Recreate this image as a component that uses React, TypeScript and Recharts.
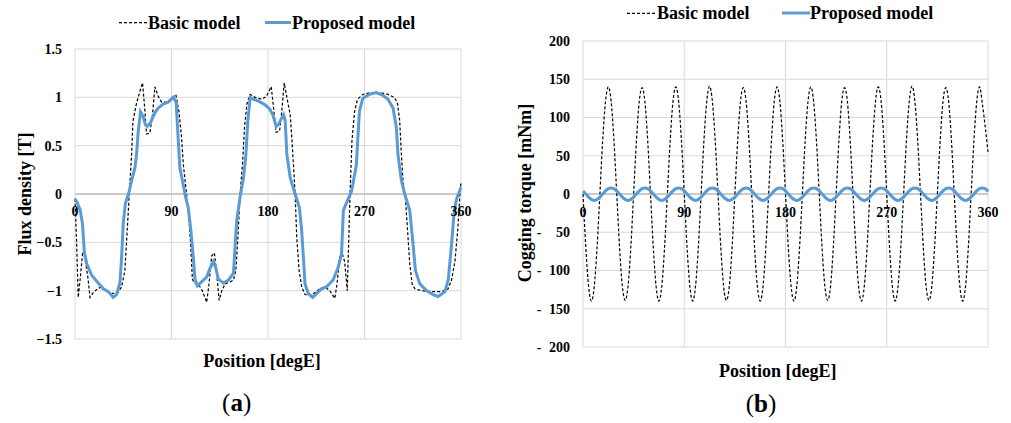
import React from 'react';
import { LineChart, Line, XAxis, YAxis, CartesianGrid, ReferenceLine } from 'recharts';

const SERIF = '"Liberation Serif", "Times New Roman", serif';
const BLUE = '#5b9bd5';

const POSITION_TICKS = [0, 90, 180, 270, 360];
const FLUX_TICKS = [-1.5, -1, -0.5, 0, 0.5, 1, 1.5];
const TORQUE_TICKS = [-200, -150, -100, -50, 0, 50, 100, 150, 200];

// (a) flux density - basic model (dashed)
const basicFluxDeg = [
  0, 1.5, 3, 5, 7, 9, 12, 14, 17, 21, 25, 28, 34, 40, 43.5, 46.5, 48.7, 50.6, 52.8, 54,
  57.4, 60.5, 63, 65.2, 66.7, 69.8, 72.3, 74.5, 77.6, 80.7, 85.3, 90, 94, 97, 99.4, 101,
  104, 106.2, 108, 109.5, 111, 115, 118.7, 122.8, 125, 127.5, 130, 132.2, 134.4, 136.9,
  140, 144.7, 147.8, 150, 151.9, 154, 156.2, 158.1, 160.3, 163.4, 168, 174.4, 178.5, 183,
  185.3, 187.4, 190.8, 192.9, 195.1, 197.6, 200.7, 202.2, 203.7, 205.3, 206.8, 209, 211.4,
  214.5, 219.1, 223.8, 228.4, 233, 237.6, 242.3, 244.4, 246.9, 249.4, 251.5, 253.9, 255.5,
  256.5, 258.3, 260.7, 263.5, 268.4, 276, 284, 292, 297.5, 300.6, 302.8, 304.4, 305.9,
  308.1, 310.6, 312.2, 314.4, 317, 323, 332.5, 342, 348, 351.2, 354.4, 356.9, 359, 360,
];
const basicFluxT = [
  -0.05, -0.5, -1.07, -0.86, -0.62, -0.65, -0.86, -1.07, -1.02, -0.98, -0.96, -0.99, -1.03, -1.02, -0.96, -0.79, -0.38, 0, 0.41, 0.75,
  0.94, 1.06, 1.15, 0.86, 0.62, 0.63, 0.82, 1.11, 1.01, 0.95, 0.95, 0.99, 1.03, 0.85, 0.58, 0.31,
  0, -0.24, -0.55, -0.88, -0.92, -0.93, -1.0, -1.12, -0.93, -0.64, -0.61, -0.82, -1.1, -1.0,
  -0.93, -0.91, -0.89, -0.79, -0.45, 0, 0.31, 0.69, 0.93, 1.03, 1.0, 0.98, 1.01, 1.11,
  0.88, 0.64, 0.65, 0.86, 1.15, 1.0, 0.82, 0.58, 0.31, 0, -0.45, -0.79, -0.96,
  -1.04, -1.05, -1.02, -0.98, -0.96, -1.0, -1.08, -0.93, -0.65, -0.62, -0.7, -1.0, -0.4,
  0, 0.55, 0.85, 0.98, 1.03, 1.05, 1.05, 1.03, 1.0, 0.95, 0.76, 0.41, 0.14,
  -0.03, -0.45, -0.72, -0.93, -0.98, -1.0, -1.01, -1.01, -0.98, -0.89, -0.69, -0.38, 0, 0.12,
];

// (a) flux density - proposed model (solid blue)
const proposedFluxDeg = [
  0, 2, 4.7, 7, 8.7, 10.9, 15.5, 21.7, 26.4, 31, 35.7, 38.8, 41.9, 43.5, 45, 47, 50.6, 52.8,
  55.9, 57.4, 59, 61.1, 63.6, 65.5, 67.3, 70.5, 74.5, 77.6, 82.2, 86.9, 91.6, 94.3, 96, 97.8,
  100.9, 103.1, 105.6, 108.1, 110.3, 111.9, 114, 118, 122.8, 125.9, 129, 131.2, 133.7, 138.4,
  143.1, 147.8, 149.4, 150.9, 154, 157.2, 159.4, 161.2, 163.4, 166.6, 171.2, 177.5, 181.5,
  184.5, 187.7, 189.9, 192, 194.5, 196, 197.6, 200.7, 205.3, 209.3, 211.4, 213, 214.5, 217.6,
  221.6, 225.3, 230, 234.6, 240.7, 245.4, 248.6, 250.3, 254, 258, 262.4, 263.8, 265.3, 268.4,
  274.7, 280.9, 287.2, 291.9, 296.6, 299.7, 301.2, 304.4, 307.5, 312.2, 315.3, 317.5, 321.6,
  327.8, 334, 338.7, 345, 348.1, 351.2, 353.7, 355.9, 360,
];
const proposedFluxT = [
  -0.05, -0.09, -0.16, -0.31, -0.6, -0.72, -0.84, -0.92, -0.98, -1.01, -1.07, -1.04, -0.92, -0.65, -0.3, -0.1, 0.03, 0.14,
  0.27, 0.41, 0.65, 0.85, 0.8, 0.72, 0.7, 0.74, 0.84, 0.89, 0.93, 0.95, 1.0, 0.95, 0.62, 0.27,
  0.1, -0.03, -0.14, -0.38, -0.65, -0.88, -0.95, -0.91, -0.86, -0.77, -0.7, -0.76, -0.88, -0.92,
  -0.89, -0.82, -0.52, -0.27, -0.03, 0.17, 0.41, 0.76, 1.0, 0.98, 0.96, 0.92, 0.88,
  0.82, 0.7, 0.72, 0.77, 0.82, 0.76, 0.41, 0.17, 0, -0.14, -0.38, -0.65, -0.93, -1.03,
  -1.07, -1.03, -0.98, -0.96, -0.89, -0.76, -0.62, -0.17, -0.07, 0.03, 0.3, 0.58, 0.86, 0.99,
  1.03, 1.05, 1.02, 0.98, 0.89, 0.69, 0.41, 0.14, 0, -0.17, -0.52, -0.79, -0.93,
  -1.0, -1.04, -1.06, -1.01, -0.89, -0.52, -0.17, -0.05, 0.07,
];

// (b) cogging torque, one value every 2.5 degE from 0 to 360
const basicTorque = [
  0, -70, -121, -140, -121, -70, 0, 70, 121, 140, 121, 70,
  0, -70, -121, -139, -121, -70, 0, 70, 121, 139, 121, 70,
  0, -70, -121, -140, -121, -70, 0, 70, 121, 140, 121, 70,
  0, -70, -121, -140, -121, -70, 0, 70, 121, 141, 121, 70,
  0, -70, -121, -139, -121, -70, 0, 70, 121, 139, 121, 70,
  0, -70, -121, -140, -121, -70, 0, 70, 121, 140, 121, 70,
  0, -70, -121, -140, -121, -70, 0, 70, 121, 140, 121, 70,
  0, -70, -121, -139, -121, -70, 0, 70, 121, 139, 121, 70,
  0, -70, -121, -140, -121, -70, 0, 70, 121, 140, 121, 70,
  0, -70, -121, -140, -121, -70, 0, 70, 121, 141, 121, 70,
  0, -70, -121, -139, -121, -70, 0, 70, 121, 139, 121, 70,
  0, -70, -121, -140, -121, -70, 0, 70, 121, 140, 118, 88,
  55,
];
const proposedTorque = [
  4, 0, -4, -7, -8.5, -7, -4, 0, 4, 7, 8, 7,
  4, 0, -4, -7, -8.5, -7, -4, 0, 4, 7, 8, 7,
  4, 0, -4, -7, -8.5, -7, -4, 0, 4, 7, 8, 7,
  4, 0, -4, -7, -8.5, -7, -4, 0, 4, 7, 8, 7,
  4, 0, -4, -7, -8.5, -7, -4, 0, 4, 7, 8, 7,
  4, 0, -4, -7, -8.5, -7, -4, 0, 4, 7, 8, 7,
  4, 0, -4, -7, -8.5, -7, -4, 0, 4, 7, 8, 7,
  4, 0, -4, -7, -8.5, -7, -4, 0, 4, 7, 8, 7,
  4, 0, -4, -7, -8.5, -7, -4, 0, 4, 7, 8, 7,
  4, 0, -4, -7, -8.5, -7, -4, 0, 4, 7, 8, 7,
  4, 0, -4, -7, -8.5, -7, -4, 0, 4, 7, 8, 7,
  4, 0, -4, -7, -8.5, -7, -4, 0, 4, 7, 8, 7,
  3,
];
const TORQUE_STEP = 2.5;

const basicFlux = basicFluxDeg.map((x, i) => ({ x, y: basicFluxT[i] }));
const proposedFlux = proposedFluxDeg.map((x, i) => ({ x, y: proposedFluxT[i] }));
const basicCog = basicTorque.map((y, i) => ({ x: i * TORQUE_STEP, y }));
const proposedCog = proposedTorque.map((y, i) => ({ x: i * TORQUE_STEP, y }));

const tickStyle = { fontSize: 14, fontWeight: 'bold', fill: '#000', fontFamily: SERIF };

// x labels sit just under the zero line, like Excel's crossing axis
function PosTick(props: any) {
  const { x, payload, labelY } = props;
  return (
    <text x={x} y={labelY} dy="0.35em" textAnchor="middle" {...tickStyle}>
      {payload.value}
    </text>
  );
}

function TorqueTick(props: any) {
  const { x, y, payload } = props;
  const v = payload.value;
  return (
    <g>
      {v < 0 && (
        <text x={x - 31} y={y} dy="0.35em" textAnchor="middle" {...tickStyle}>-</text>
      )}
      <text x={x} y={y} dy="0.35em" textAnchor="end" {...tickStyle}>{Math.abs(v)}</text>
    </g>
  );
}

const fmtFlux = (v: number) => (v < 0 ? '\u2212' + Math.abs(v) : String(v));

function FluxChart() {
  return (
    <div style={{ position: 'absolute', left: 0, top: 0 }}>
      <LineChart width={480} height={423} margin={{ top: 49, right: 19, left: 0, bottom: 74 }}>
        <CartesianGrid stroke="#d9d9d9" />
        <XAxis
          type="number"
          dataKey="x"
          domain={[0, 360]}
          ticks={POSITION_TICKS}
          interval={0}
          height={10}
          axisLine={false}
          tickLine={false}
          tick={(p: any) => <PosTick {...p} labelY={211} />}
        />
        <YAxis
          type="number"
          domain={[-1.5, 1.5]}
          ticks={FLUX_TICKS}
          interval={0}
          width={75}
          axisLine={false}
          tickLine={false}
          tickMargin={7}
          tick={tickStyle}
          tickFormatter={fmtFlux}
        />
        <ReferenceLine y={0} stroke="#bfbfbf" strokeWidth={1.3} />
        <Line data={basicFlux} dataKey="y" type="linear" stroke="#000" strokeWidth={1.2}
          strokeDasharray="3 2" dot={false} isAnimationActive={false} />
        <Line data={proposedFlux} dataKey="y" type="linear" stroke={BLUE} strokeWidth={3}
          dot={false} isAnimationActive={false} />
      </LineChart>
    </div>
  );
}

function TorqueChart() {
  return (
    <div style={{ position: 'absolute', left: 500, top: 0 }}>
      <LineChart width={511} height={423} margin={{ top: 41, right: 23, left: 0, bottom: 66 }}>
        <CartesianGrid stroke="#d9d9d9" />
        <XAxis
          type="number"
          dataKey="x"
          domain={[0, 360]}
          ticks={POSITION_TICKS}
          interval={0}
          height={10}
          axisLine={false}
          tickLine={false}
          tick={(p: any) => <PosTick {...p} labelY={212} />}
        />
        <YAxis
          type="number"
          domain={[-200, 200]}
          ticks={TORQUE_TICKS}
          interval={0}
          width={83}
          axisLine={false}
          tickLine={false}
          tickMargin={7}
          tick={(p: any) => <TorqueTick {...p} />}
        />
        <ReferenceLine y={0} stroke="#bfbfbf" strokeWidth={1.3} />
        <Line data={basicCog} dataKey="y" type="monotone" stroke="#000" strokeWidth={1.2}
          strokeDasharray="3 2" dot={false} isAnimationActive={false} />
        <Line data={proposedCog} dataKey="y" type="monotone" stroke={BLUE} strokeWidth={3}
          dot={false} isAnimationActive={false} />
      </LineChart>
    </div>
  );
}

// legends, axis titles and sub-captions
function Labels() {
  const t = { fontFamily: SERIF, fontWeight: 'bold', fontSize: 18, fill: '#000' } as const;
  return (
    <svg width={1011} height={423} style={{ position: 'absolute', left: 0, top: 0, pointerEvents: 'none' }}>
      <line x1={119} x2={147} y1={22.7} y2={22.7} stroke="#000" strokeWidth={1.2} strokeDasharray="3 2" />
      <text x={148} y={28.5} {...t}>Basic model</text>
      <line x1={265} x2={291} y1={22.5} y2={22.5} stroke={BLUE} strokeWidth={3} />
      <text x={292} y={28.5} {...t}>Proposed model</text>

      <line x1={627} x2={655} y1={13.3} y2={13.3} stroke="#000" strokeWidth={1.2} strokeDasharray="3 2" />
      <text x={657} y={18.5} {...t}>Basic model</text>
      <line x1={782} x2={810} y1={13} y2={13} stroke={BLUE} strokeWidth={3} />
      <text x={810} y={18.5} {...t}>Proposed model</text>

      <text transform="translate(30.5,194) rotate(-90)" textAnchor="middle" {...t}>Flux density [T]</text>
      <text transform="translate(531,193) rotate(-90)" textAnchor="middle" {...t}>Cogging torque [mNm]</text>
      <text x={262} y={366.7} textAnchor="middle" {...t}>Position [degE]</text>
      <text x={777.7} y={376.7} textAnchor="middle" {...t}>Position [degE]</text>

      <text x={236.7} y={411} textAnchor="middle" fontFamily={SERIF} fontSize={25} fill="#000">
        (<tspan fontWeight="bold">a</tspan>)
      </text>
      <text x={761} y={412} textAnchor="middle" fontFamily={SERIF} fontSize={25} fill="#000">
        (<tspan fontWeight="bold">b</tspan>)
      </text>
    </svg>
  );
}

export default function App() {
  return (
    <div style={{ position: 'absolute', left: 0, top: 0, width: 1011, height: 423, background: '#fff', overflow: 'hidden' }}>
      <FluxChart />
      <TorqueChart />
      <Labels />
    </div>
  );
}
